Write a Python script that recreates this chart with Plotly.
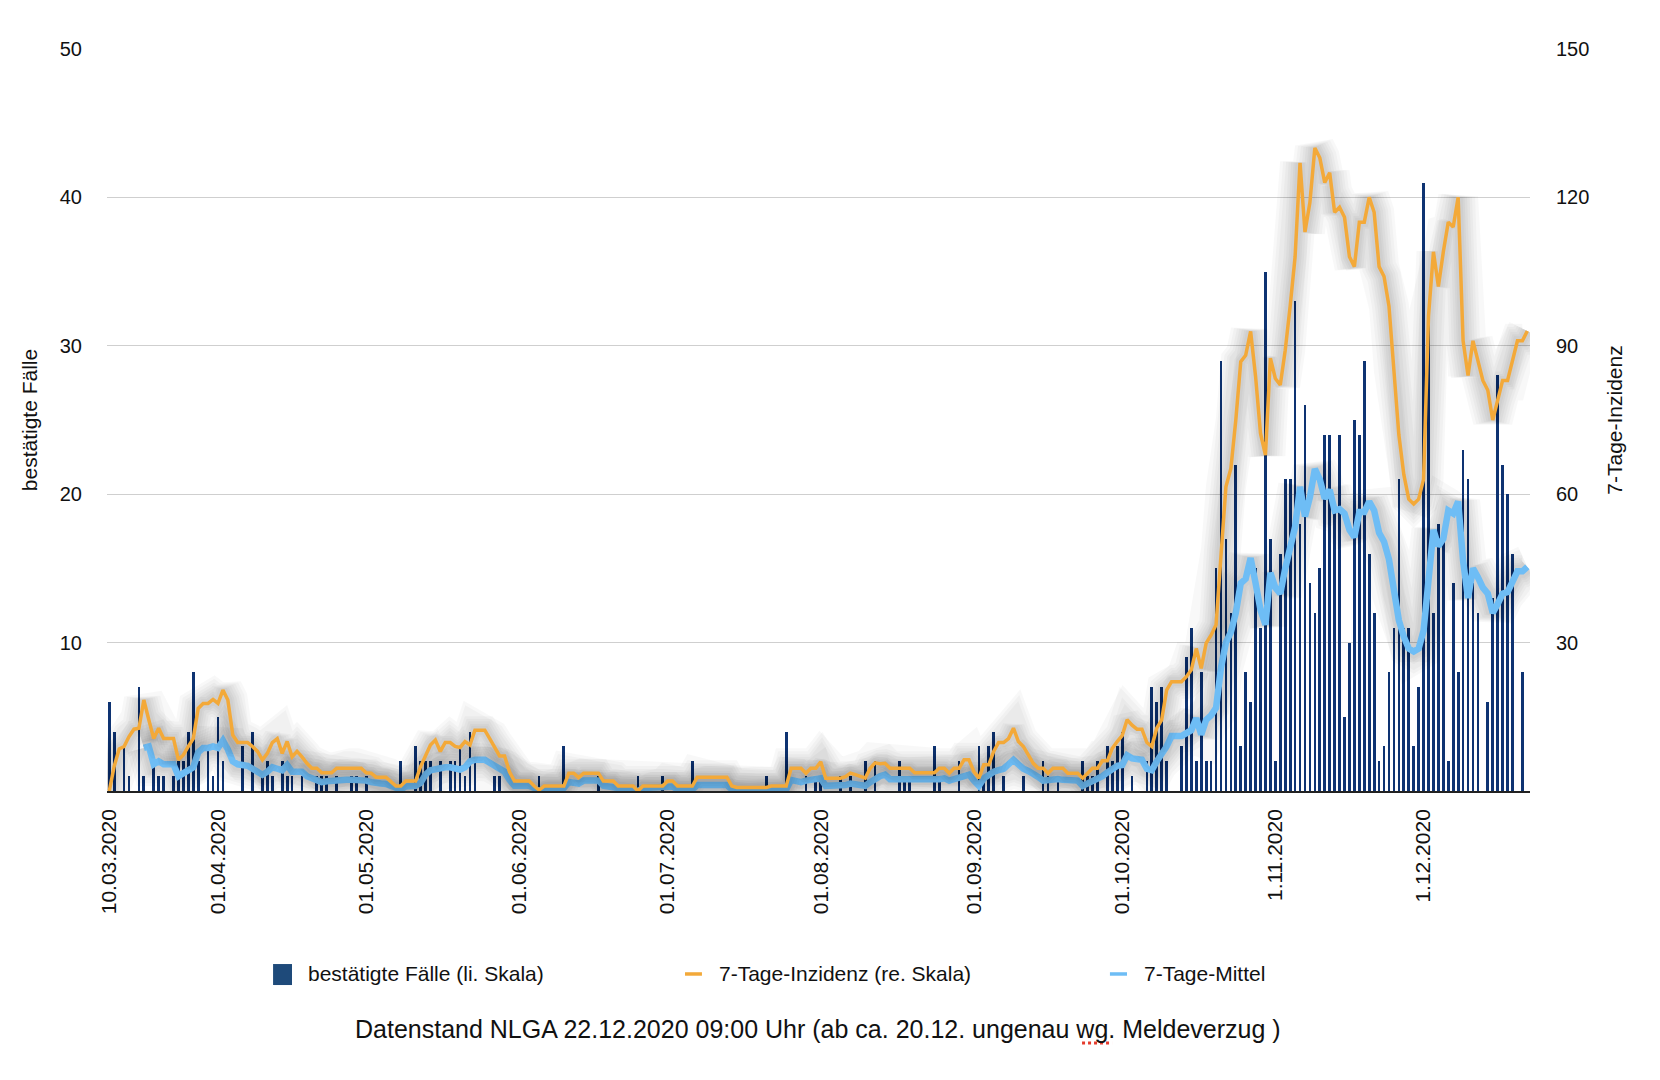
import pandas as pd
import plotly.graph_objects as go

START = "2020-03-10"

# daily confirmed cases (left axis), 10.03.2020 - 21.12.2020
faelle = [
    6, 4, 0, 3, 1, 0, 7, 1, 0, 2,
    1, 1, 0, 1, 2, 2, 4, 8, 2, 0,
    3, 1, 5, 2, 0, 0, 0, 3, 0, 4,
    0, 1, 2, 1, 0, 2, 1, 1, 0, 1,
    0, 0, 1, 1, 1, 0, 1, 0, 0, 1,
    1, 0, 1, 0, 0, 0, 0, 0, 0, 2,
    0, 0, 3, 2, 2, 2, 0, 2, 0, 2,
    2, 3, 1, 4, 2, 0, 0, 0, 1, 1,
    0, 0, 0, 0, 0, 0, 0, 1, 0, 0,
    0, 0, 3, 0, 0, 0, 0, 0, 0, 1,
    0, 0, 0, 0, 0, 0, 0, 1, 0, 0,
    0, 0, 1, 0, 0, 0, 0, 0, 2, 0,
    0, 0, 0, 0, 0, 0, 0, 0, 0, 0,
    0, 0, 0, 1, 0, 0, 0, 4, 0, 0,
    0, 1, 0, 1, 1, 0, 0, 0, 1, 0,
    1, 0, 0, 2, 0, 2, 0, 0, 0, 0,
    2, 1, 1, 0, 0, 0, 0, 3, 1, 0,
    0, 0, 2, 0, 0, 0, 3, 1, 3, 4,
    0, 1, 0, 0, 0, 1, 0, 0, 0, 2,
    1, 0, 1, 0, 0, 0, 0, 2, 1, 1,
    2, 0, 3, 2, 3, 4, 0, 1, 0, 0,
    2, 7, 6, 7, 2, 0, 0, 3, 9, 11,
    2, 8, 2, 2, 15, 29, 17, 12, 22, 3,
    8, 6, 15, 11, 35, 17, 2, 16, 21, 21,
    33, 18, 26, 14, 12, 15, 24, 24, 19, 24,
    5, 10, 25, 24, 29, 16, 12, 2, 3, 8,
    11, 21, 11, 11, 3, 7, 41, 32, 12, 18,
    17, 2, 14, 8, 23, 21, 14, 12, 0, 6,
    13, 28, 22, 20, 16, 0, 8,
]

# 7-day incidence (right axis), 10.03.2020 - 22.12.2020
inzidenz = [
    0, 5, 8.5, 9, 11, 12.5, 12.7, 18.4, 14.4, 10.6,
    12.7, 10.6, 10.6, 10.6, 6.3, 7.3, 9, 10.6, 16.7, 17.7,
    17.7, 18.5, 17.7, 20.4, 18.4, 11.3, 9.8, 9.8, 9.8, 9,
    8, 6.3, 7.6, 9.8, 10.6, 7.6, 10, 6.9, 8, 6.9,
    5.6, 4.6, 4.6, 3.7, 3.7, 3.7, 4.6, 4.6, 4.6, 4.6,
    4.6, 4.6, 3.7, 3.6, 2.8, 2.8, 2.8, 1.9, 1.0, 1.0,
    2.0, 2.0, 2.0, 4.9, 7.3, 9.3, 10.3, 8.0, 9.8, 9.8,
    9.0, 8.8, 10, 9.3, 12.3, 12.3, 12.3, 10.6, 9.0, 7.1,
    7.1, 3.9, 2, 2, 2, 2, 1, 0.2, 1, 1,
    1, 1, 1, 3.6, 3.6, 2.7, 3.6, 3.6, 3.6, 3.6,
    2, 2, 2, 1, 1, 1, 1, 0, 1, 1,
    1, 1, 1, 2, 2, 1, 1, 1, 1, 2.8,
    2.8, 2.8, 2.8, 2.8, 2.8, 2.8, 1.0, 0.7, 0.7, 0.7,
    0.7, 0.7, 0.7, 0.7, 1, 1, 1, 1, 4.6, 4.6,
    4.6, 3.6, 4.6, 4.6, 5.9, 2.6, 2.6, 2.6, 2.6, 2.9,
    3.6, 3.3, 2.9, 2.6, 4.6, 5.7, 5.5, 5.6, 4.6, 4.6,
    4.6, 4.6, 4.6, 3.7, 3.7, 3.7, 3.7, 3.7, 4.6, 4.6,
    3.6, 4.6, 4.6, 6.3, 6.3, 3.9, 2.6, 5.3, 5.3, 8.0,
    9.8, 9.8, 10.6, 12.7, 10.0, 9.0, 7.3, 5.6, 4.6, 4.6,
    3.6, 4.6, 4.6, 4.6, 3.6, 3.6, 3.6, 2.6, 3.6, 4.6,
    4.6, 6.1, 6.1, 8.6, 10, 11.2, 14.4, 13.3, 12.5, 12.5,
    9.8, 9.0, 12.7, 14.4, 20.4, 22.1, 22.1, 22.1, 23.1, 24.5,
    28.8, 24.8, 29.9, 31.5, 33.6, 48.7, 61.5, 65.2, 75.0, 86.8,
    88.1, 92.9, 83.8, 72.3, 67.9, 87.5, 83.4, 82.1, 89.1, 98,
    108, 127, 113, 119, 130, 128, 123, 125, 117, 118,
    116, 108, 106, 115, 115, 120, 117, 106, 104, 98,
    85, 72, 64, 59, 58, 59, 63, 96, 109, 102,
    109, 115, 114, 120, 91, 84, 91, 87, 83, 81,
    75, 79, 83, 83, 87, 91, 91, 93,
]

# 7-day mean of cases (left axis), 10.03.2020 - 22.12.2020
mittel = [
    None, None, None, None, None, None, None, 2.9, 3.0, 1.8,
    2.0, 1.8, 1.8, 1.8, 1.0, 1.2, 1.4, 1.6, 2.6, 2.9,
    2.9, 3.0, 2.9, 3.4, 2.8, 2.0, 1.8, 1.75, 1.7, 1.5,
    1.3, 1.1, 1.3, 1.6, 1.5, 1.4, 1.75, 1.3, 1.3, 1.3,
    1.0, 0.85, 0.7, 0.6, 0.65, 0.7, 0.75, 0.75, 0.75, 0.75,
    0.75, 0.8, 0.7, 0.6, 0.5, 0.5, 0.47, 0.35, 0.2, 0.1,
    0.3, 0.35, 0.35, 0.55, 1.1, 1.4, 1.5, 1.6, 1.6, 1.6,
    1.5, 1.45, 1.6, 2.0, 2.1, 2.1, 2.1, 1.9, 1.7, 1.45,
    1.3, 0.75, 0.35, 0.35, 0.35, 0.35, 0.2, 0, 0.2, 0.2,
    0.2, 0.2, 0.2, 0.6, 0.6, 0.5, 0.7, 0.7, 0.7, 0.7,
    0.35, 0.3, 0.25, 0.2, 0.2, 0.2, 0.1, 0, 0.2, 0.2,
    0.2, 0.2, 0.2, 0.3, 0.3, 0.1, 0.1, 0.1, 0.1, 0.4,
    0.4, 0.4, 0.4, 0.4, 0.4, 0.4, 0.1, 0, 0, 0,
    0, 0, 0, 0, 0.1, 0.1, 0.1, 0.1, 0.75, 0.65,
    0.6, 0.7, 0.75, 0.8, 0.85, 0.35, 0.35, 0.4, 0.4, 0.4,
    0.5, 0.45, 0.4, 0.35, 0.6, 0.85, 1.0, 1.1, 0.8, 0.8,
    0.8, 0.8, 0.8, 0.75, 0.7, 0.7, 0.7, 0.7, 0.8, 0.85,
    0.7, 0.8, 0.9, 1.0, 1.1, 0.7, 0.35, 0.85, 1.1, 1.3,
    1.4, 1.5, 1.8, 2.1, 1.8, 1.5, 1.35, 1.2, 0.95, 0.7,
    0.75, 0.8, 0.8, 0.75, 0.75, 0.7, 0.7, 0.35, 0.5, 0.7,
    0.85, 1.0, 1.25, 1.5, 1.7, 1.75, 2.4, 2.2, 2.1, 2.1,
    1.5, 1.4, 2.0, 2.5, 3.0, 3.7, 3.7, 3.7, 3.9, 4.1,
    4.9, 3.8, 4.8, 5.1, 5.6, 8.3, 10.0, 10.7, 12.0, 14.0,
    14.3, 15.7, 14.0, 12.2, 11.2, 14.7, 13.7, 13.3, 15.0, 16.5,
    17.8, 20.5, 18.5, 19.8, 21.7, 21.0, 19.7, 20.3, 18.9, 19.0,
    18.7, 17.6, 17.1, 18.8, 18.8, 19.5, 18.9, 17.4, 16.8, 15.6,
    13.3, 11.5, 10.4, 9.6, 9.4, 9.6, 10.8, 14.5, 17.6, 16.5,
    17.0, 18.9, 18.7, 19.5, 15.5, 13.0, 15.0, 14.4, 13.7, 13.3,
    12.0, 12.6, 13.3, 13.4, 14.1, 14.8, 14.8, 15.1,
]

tick_dates = ["2020-03-10", "2020-04-01", "2020-05-01", "2020-06-01", "2020-07-01",
              "2020-08-01", "2020-09-01", "2020-10-01", "2020-11-01", "2020-12-01"]
tick_labels = ["10.03.2020", "01.04.2020", "01.05.2020", "01.06.2020", "01.07.2020",
               "01.08.2020", "01.09.2020", "01.10.2020", "1.11.2020", "1.12.2020"]
left_ticks = [10, 20, 30, 40, 50]
right_ticks = [30, 60, 90, 120, 150]
legend_names = ["bestätigte Fälle (li. Skala)", "7-Tage-Inzidenz (re. Skala)", "7-Tage-Mittel"]
footer = "Datenstand NLGA 22.12.2020 09:00 Uhr (ab ca. 20.12. ungenau wg. Meldeverzug )"

days_bar = pd.date_range(START, periods=len(faelle), freq="D")
days_line = pd.date_range(START, periods=len(inzidenz), freq="D")

FONT = "Liberation Sans, Arial, sans-serif"
BAR_C = "#0E3372"
SWATCH_C = "#1E4A7A"
ORANGE = "#F3A939"
BLUE = "#6EBDF5"
TXT = "#111"
DAY_MS = 86400000

fig = go.Figure()

fig.add_trace(go.Bar(
    x=days_bar, y=faelle, name=legend_names[0],
    marker=dict(color=BAR_C, line=dict(width=0)), width=0.55 * DAY_MS,
    yaxis="y", showlegend=False,
))

# soft blurred shadows under the lines (stacked translucent strokes)
for w in [40, 34, 28, 23, 18, 13, 9]:
    a = 0.026
    fig.add_trace(go.Scatter(
        x=days_line, y=inzidenz, mode="lines", yaxis="y2", showlegend=False,
        hoverinfo="skip", line=dict(color=f"rgba(0,0,0,{a})", width=w),
    ))
    fig.add_trace(go.Scatter(
        x=days_line, y=mittel, mode="lines", yaxis="y", showlegend=False,
        hoverinfo="skip", line=dict(color=f"rgba(0,0,0,{a})", width=w + 4),
    ))

fig.add_trace(go.Scatter(
    x=days_line, y=inzidenz, mode="lines", name=legend_names[1],
    line=dict(color=ORANGE, width=3.5), yaxis="y2", showlegend=False,
))
fig.add_trace(go.Scatter(
    x=days_line, y=mittel, mode="lines", name=legend_names[2],
    line=dict(color=BLUE, width=6.5), yaxis="y", showlegend=False,
))

x0 = pd.Timestamp(START) - pd.Timedelta(hours=11)
x1 = pd.Timestamp(START) + pd.Timedelta(days=287, hours=13)

# legend drawn below the plot (paper coordinates)
LY = -0.2466
shapes = [
    dict(type="rect", xref="paper", yref="paper", x0=0.1167, x1=0.1300, y0=-0.2615, y1=-0.2332,
         fillcolor=SWATCH_C, line=dict(width=0)),
    dict(type="line", xref="paper", yref="paper", x0=0.4062, x1=0.4181, y0=LY, y1=LY,
         line=dict(color=ORANGE, width=3.5)),
    dict(type="line", xref="paper", yref="paper", x0=0.7048, x1=0.7168, y0=LY, y1=LY,
         line=dict(color=BLUE, width=3.5)),
    dict(type="line", xref="paper", yref="paper", x0=0.6852, x1=0.7063, y0=-0.3396, y1=-0.3396,
         line=dict(color="#E53B2C", width=3, dash="dot")),
]
annotations = [
    dict(text=legend_names[0], xref="paper", yref="paper", x=0.1398, y=LY,
         xanchor="left", yanchor="middle", showarrow=False, font=dict(size=21, color=TXT)),
    dict(text=legend_names[1], xref="paper", yref="paper", x=0.4287, y=LY,
         xanchor="left", yanchor="middle", showarrow=False, font=dict(size=21, color=TXT)),
    dict(text=legend_names[2], xref="paper", yref="paper", x=0.7273, y=LY,
         xanchor="left", yanchor="middle", showarrow=False, font=dict(size=21, color=TXT)),
    dict(text=footer, xref="paper", yref="paper", x=0.4997, y=-0.321,
         xanchor="center", yanchor="middle", showarrow=False, font=dict(size=25, color=TXT)),
]

fig.update_layout(
    width=1660, height=1080, autosize=False,
    margin=dict(l=107, r=130, t=49, b=289, pad=0),
    paper_bgcolor="white", plot_bgcolor="white",
    font=dict(family=FONT, size=20, color=TXT),
    bargap=0,
    showlegend=False,
    shapes=shapes,
    annotations=annotations,
    xaxis=dict(
        type="date", range=[x0, x1], tickvals=tick_dates, ticktext=tick_labels,
        tickangle=-90, ticks="", showgrid=False, zeroline=False,
        showline=True, linecolor="#222", linewidth=1.5,
        tickfont=dict(size=21, color=TXT), ticklabelstandoff=8,
    ),
    yaxis=dict(
        range=[0, 50], tickvals=left_ticks, ticks="", showline=False,
        gridcolor="#CFCFCF", gridwidth=1, zeroline=False,
        tickfont=dict(size=20, color=TXT), ticklabelstandoff=24,
        title=dict(text="bestätigte Fälle", font=dict(size=21, color=TXT), standoff=16),
    ),
    yaxis2=dict(
        range=[0, 150], tickvals=right_ticks, overlaying="y", side="right",
        showgrid=False, zeroline=False, ticks="", showline=False,
        tickfont=dict(size=20, color=TXT), ticklabelstandoff=25,
        title=dict(text="7-Tage-Inzidenz", font=dict(size=21, color=TXT), standoff=18),
    ),
)

fig.write_html("out.html", config={"displayModeBar": False},
               post_script="document.body.style.margin='0';")
